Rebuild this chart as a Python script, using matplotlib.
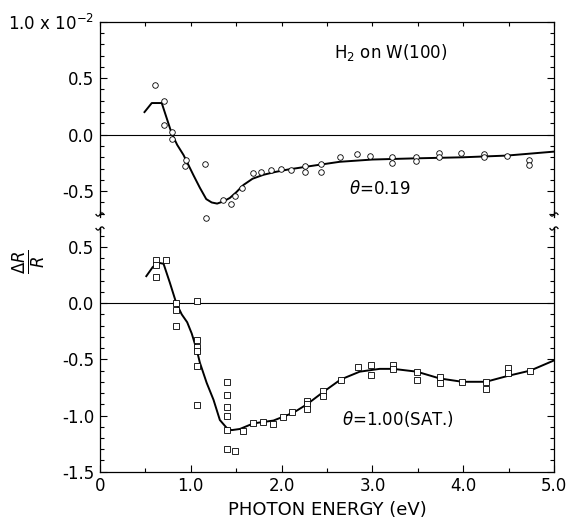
import matplotlib.pyplot as plt
import numpy as np
from matplotlib.ticker import MultipleLocator

# theta = 0.19 (circles), values in units of 1e-2
low_x = [0.61, 0.70, 0.70, 0.79, 0.79, 0.95, 0.94, 1.16, 1.17, 1.35, 1.44, 1.49, 1.56,
         1.68, 1.77, 1.88, 1.99, 2.10, 2.26, 2.26, 2.43, 2.43, 2.64, 2.83, 2.97, 3.22,
         3.22, 3.48, 3.48, 3.73, 3.73, 3.98, 4.23, 4.23, 4.48, 4.72, 4.72]
low_y = [0.44, 0.30, 0.09, 0.02, -0.04, -0.22, -0.28, -0.26, -0.74, -0.58, -0.61, -0.54, -0.47,
         -0.34, -0.33, -0.31, -0.30, -0.31, -0.28, -0.33, -0.26, -0.33, -0.20, -0.17, -0.19, -0.20,
         -0.25, -0.20, -0.23, -0.165, -0.20, -0.165, -0.17, -0.20, -0.19, -0.22, -0.27]
low_fit_x = [0.49, 0.57, 0.68, 0.79, 0.85, 0.92, 1.03, 1.10, 1.17, 1.23, 1.29, 1.36, 1.43,
             1.50, 1.58, 1.68, 1.80, 1.93, 2.06, 2.30, 2.64, 3.00, 3.45, 4.00, 4.48, 5.00]
low_fit_y = [0.20, 0.28, 0.28, 0.01, -0.09, -0.18, -0.36, -0.47, -0.57, -0.60, -0.61, -0.59, -0.56,
             -0.51, -0.445, -0.39, -0.355, -0.33, -0.31, -0.28, -0.24, -0.22, -0.21, -0.20, -0.185, -0.15]

# theta = 1.00 saturation (squares)
sat_x = [0.62, 0.62, 0.62, 0.73, 0.84, 0.84, 0.84, 1.07, 1.07, 1.07, 1.07, 1.07, 1.07,
         1.40, 1.40, 1.40, 1.40, 1.40, 1.40, 1.49, 1.58, 1.69, 1.80, 1.90, 2.01, 2.11,
         2.28, 2.28, 2.28, 2.46, 2.46, 2.65, 2.84, 2.99, 2.99, 3.23, 3.23, 3.49, 3.49,
         3.74, 3.74, 3.99, 4.25, 4.25, 4.49, 4.49, 4.74]
sat_y = [0.385, 0.34, 0.23, 0.38, 0.00, -0.06, -0.20, 0.02, -0.33, -0.39, -0.43, -0.56, -0.91,
         -0.70, -0.82, -0.92, -1.00, -1.13, -1.30, -1.32, -1.14, -1.07, -1.06, -1.075, -1.015, -0.97,
         -0.87, -0.90, -0.94, -0.78, -0.83, -0.68, -0.565, -0.555, -0.64, -0.55, -0.59, -0.61, -0.68,
         -0.66, -0.71, -0.70, -0.70, -0.76, -0.58, -0.62, -0.60]
sat_fit_x = [0.51, 0.58, 0.64, 0.70, 0.77, 0.84, 0.90, 0.96, 1.01, 1.065, 1.10, 1.175, 1.25,
             1.32, 1.395, 1.45, 1.54, 1.69, 1.91, 2.13, 2.28, 2.46, 2.65, 2.86, 3.08, 3.23,
             3.49, 3.74, 3.99, 4.25, 4.48, 4.74, 5.00]
sat_fit_y = [0.24, 0.32, 0.36, 0.35, 0.18, 0.00, -0.10, -0.17, -0.27, -0.415, -0.53, -0.71, -0.86,
             -1.04, -1.11, -1.13, -1.12, -1.07, -1.045, -0.975, -0.90, -0.79, -0.68, -0.61, -0.585, -0.585,
             -0.61, -0.67, -0.70, -0.70, -0.65, -0.60, -0.51]

x_ticks = [0, 1, 2, 3, 4, 5]
x_labels = ["0", "1.0", "2.0", "3.0", "4.0", "5.0"]
top_ticks = [-0.5, 0.0, 0.5, 1.0]
top_labels = ["-0.5", "0.0", "0.5", "1.0 x 10$^{-2}$"]
bot_ticks = [-1.5, -1.0, -0.5, 0.0, 0.5]
bot_labels = ["-1.5", "-1.0", "-0.5", "0.0", "0.5"]

plt.rcParams["font.family"] = "DejaVu Sans"
plt.rcParams["mathtext.fontset"] = "dejavusans"

W, H = 567, 518
fig = plt.figure(figsize=(W / 100, H / 100), dpi=100)

left, right = 100 / W, 554 / W
ax_t = fig.add_axes([left, 1 - 216.7 / H, right - left, (216.7 - 21.7) / H])
ax_b = fig.add_axes([left, 1 - 471.7 / H, right - left, (471.7 - 226.7) / H])

for ax in (ax_t, ax_b):
    ax.set_xlim(0, 5)
    ax.axhline(0, color="black", lw=0.8, zorder=1)
    ax.yaxis.set_major_locator(MultipleLocator(0.5))
    ax.yaxis.set_minor_locator(MultipleLocator(0.1))
    ax.tick_params(which="both", direction="in", left=True, right=True, width=0.8,
                   labelsize=12, pad=4)
    ax.tick_params(which="major", length=5)
    ax.tick_params(which="minor", length=3)
    for s in ax.spines.values():
        s.set_linewidth(0.9)

# top panel
ax_t.set_ylim(-0.726, 1.0)
ax_t.spines["bottom"].set_visible(False)
ax_t.set_xticks(np.arange(0, 5.01, 0.5))
ax_t.tick_params(axis="x", bottom=False, top=True, labelbottom=False, length=3)
ax_t.set_yticks(top_ticks, top_labels)
ax_t.plot(low_fit_x, low_fit_y, color="black", lw=1.4, zorder=3)
ax_t.plot(low_x, low_y, "o", ms=4, mfc="white", mec="black", mew=0.6, zorder=4, clip_on=False)
ax_t.text(3.2, 0.73, "H$_2$ on W(100)", fontsize=12, ha="center", va="center")
ax_t.text(3.08, -0.485, r"$\theta$=0.19", fontsize=12, ha="center", va="center")

# bottom panel
ax_b.set_ylim(-1.5, 0.68)
ax_b.spines["top"].set_visible(False)
ax_b.set_xticks(x_ticks, x_labels)
ax_b.set_xticks(np.arange(0.5, 5, 1.0), minor=True)
ax_b.tick_params(axis="x", which="both", top=False, bottom=True)
ax_b.set_yticks(bot_ticks, bot_labels)
ax_b.plot(sat_fit_x, sat_fit_y, color="black", lw=1.4, zorder=3)
ax_b.plot(sat_x, sat_y, "s", ms=4, mfc="white", mec="black", mew=0.6, zorder=4)
ax_b.text(3.28, -1.03, r"$\theta$=1.00(SAT.)", fontsize=12, ha="center", va="center")
ax_b.set_xlabel("PHOTON ENERGY (eV)", fontsize=13, labelpad=4)

# axis break squiggles on both sides
t = np.linspace(0, 1, 30)
for xs in (100, 554):
    for ys in (214.5, 228.5):
        px = xs - 4 + 8 * t
        py = ys + 1.6 * np.sin(2 * np.pi * t)
        fig.add_artist(plt.Line2D(px / W, 1 - py / H, color="black", lw=0.9))
    for y0, y1 in ((211, 214.5), (228.5, 232)):
        fig.add_artist(plt.Line2D([xs / W, xs / W], [1 - y0 / H, 1 - y1 / H], color="black", lw=0.9))

fig.text(29 / W, 1 - 262 / H, r"$\frac{\Delta R}{R}$", fontsize=17, rotation=90,
         ha="center", va="center")

fig.savefig("out.png", dpi=100, facecolor="white")
